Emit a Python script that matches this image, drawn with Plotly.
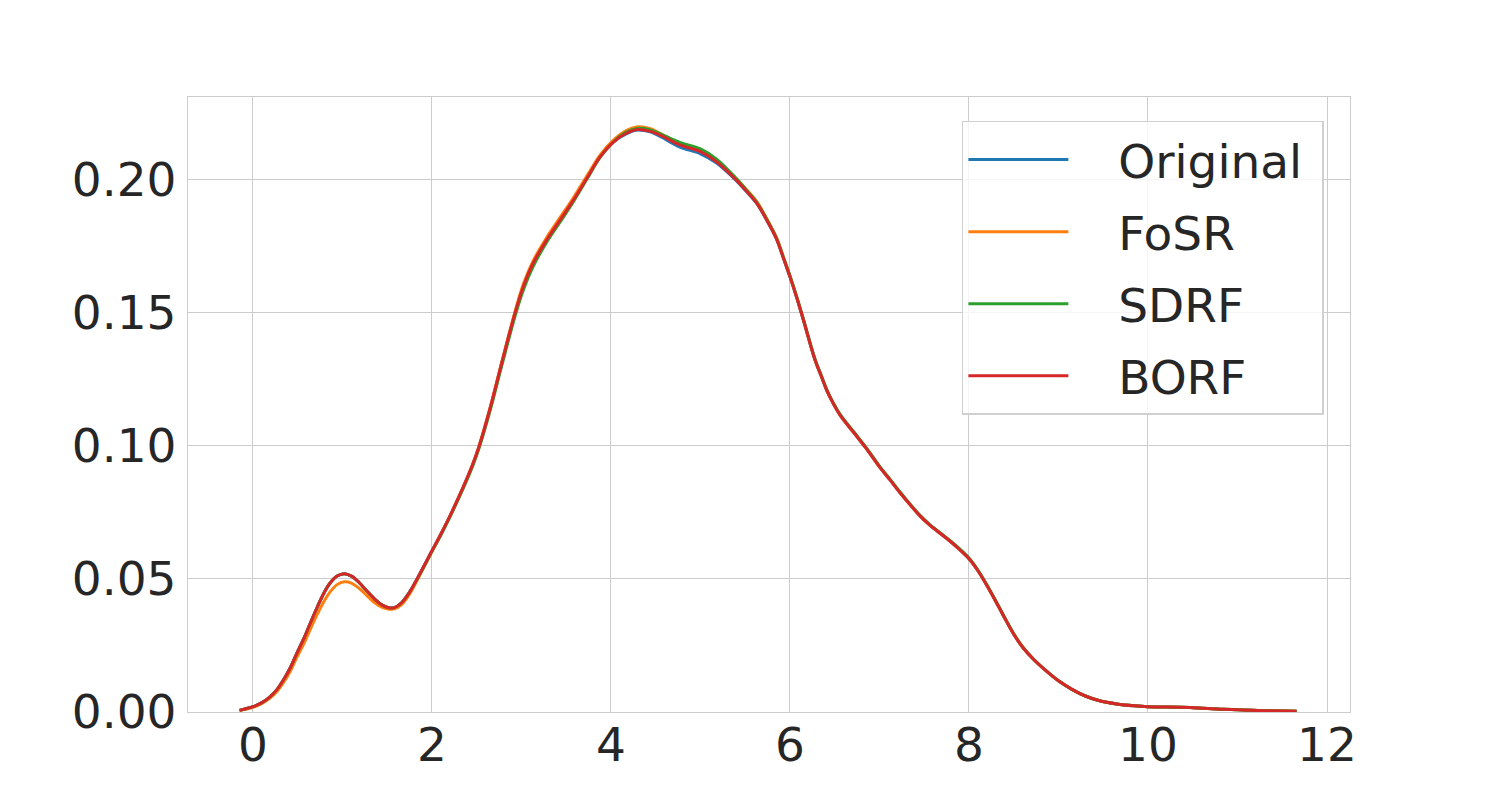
import plotly.graph_objects as go

x_vals = [-0.15, 0.0, 0.1, 0.19, 0.27, 0.34, 0.42, 0.49, 0.57, 0.64, 0.72, 0.79, 0.86, 0.94,
          1.02, 1.1, 1.18, 1.27, 1.36, 1.45, 1.52, 1.58, 1.66, 1.75, 1.85, 2.0, 2.1, 2.2,
          2.35, 2.45, 2.52, 2.65, 2.78, 2.93, 3.02, 3.13, 3.28, 3.43, 3.58, 3.73, 3.88,
          4.03, 4.17, 4.3, 4.43, 4.55, 4.77, 5.0, 5.18, 5.4, 5.5, 5.63, 5.75, 5.85, 5.93,
          6.0, 6.08, 6.15, 6.28, 6.35, 6.41, 6.48, 6.56, 6.75, 6.85, 7.0, 7.12, 7.23, 7.35,
          7.45, 7.55, 7.68, 7.8, 7.9, 8.0, 8.1, 8.2, 8.3, 8.4, 8.5, 8.6, 8.72, 8.85, 9.0,
          9.15, 9.3, 9.45, 9.65, 9.85, 10.0, 10.47, 10.84, 11.29, 11.66]

borf = [0.0006, 0.0020, 0.0035, 0.0057, 0.0085, 0.0120, 0.0168, 0.0220, 0.0277, 0.0333,
        0.0395, 0.0445, 0.0483, 0.0510, 0.0519, 0.0510, 0.0488, 0.0455, 0.0424, 0.0400,
        0.0391, 0.0392, 0.0410, 0.0450, 0.0510, 0.0605, 0.0668, 0.0735, 0.0845, 0.0925,
        0.0990, 0.1140, 0.1310, 0.1500, 0.1596, 0.1684, 0.1771, 0.1846, 0.1921, 0.2003,
        0.2084, 0.2140, 0.2172, 0.2186, 0.2180, 0.2165, 0.2128, 0.2103, 0.2065, 0.1996,
        0.1960, 0.1909, 0.1840, 0.1775, 0.1700, 0.1633, 0.1550, 0.1471, 0.1321, 0.1260,
        0.1208, 0.1160, 0.1114, 0.1033, 0.0990, 0.0920, 0.0870, 0.0823, 0.0775, 0.0737,
        0.0705, 0.0670, 0.0638, 0.0608, 0.0575, 0.0530, 0.0475, 0.0415, 0.0352, 0.0292,
        0.0243, 0.0198, 0.0158, 0.0117, 0.0085, 0.0060, 0.0043, 0.0030, 0.0023, 0.0020,
        0.0017, 0.0010, 0.0005, 0.0003]

original = [0.0006, 0.0020, 0.0035, 0.0057, 0.0085, 0.0120, 0.0168, 0.0220, 0.0277, 0.0333,
            0.0395, 0.0445, 0.0483, 0.0510, 0.0519, 0.0510, 0.0488, 0.0455, 0.0424, 0.0400,
            0.0391, 0.0392, 0.0410, 0.0450, 0.0510, 0.0605, 0.0668, 0.0735, 0.0845, 0.0925,
            0.0990, 0.1140, 0.1310, 0.1500, 0.1596, 0.1684, 0.1771, 0.1846, 0.1921, 0.2003,
            0.2084, 0.2140, 0.2170, 0.2184, 0.2178, 0.2160, 0.2120, 0.2095, 0.2060, 0.1994,
            0.1958, 0.1908, 0.1840, 0.1775, 0.1700, 0.1633, 0.1550, 0.1471, 0.1321, 0.1260,
            0.1208, 0.1160, 0.1114, 0.1033, 0.0990, 0.0920, 0.0870, 0.0823, 0.0775, 0.0737,
            0.0705, 0.0670, 0.0638, 0.0608, 0.0575, 0.0530, 0.0475, 0.0415, 0.0352, 0.0292,
            0.0243, 0.0198, 0.0158, 0.0117, 0.0085, 0.0060, 0.0043, 0.0030, 0.0023, 0.0020,
            0.0017, 0.0010, 0.0005, 0.0003]

fosr = [0.0006, 0.0018, 0.0032, 0.0052, 0.0078, 0.0110, 0.0155, 0.0205, 0.0258, 0.0310,
        0.0368, 0.0413, 0.0450, 0.0478, 0.0489, 0.0484, 0.0466, 0.0438, 0.0410, 0.0392,
        0.0386, 0.0387, 0.0403, 0.0443, 0.0505, 0.0603, 0.0668, 0.0735, 0.0845, 0.0926,
        0.0992, 0.1143, 0.1314, 0.1505, 0.1605, 0.1693, 0.1780, 0.1855, 0.1930, 0.2011,
        0.2091, 0.2147, 0.2182, 0.2196, 0.2190, 0.2172, 0.2132, 0.2105, 0.2068, 0.2002,
        0.1966, 0.1915, 0.1846, 0.1780, 0.1704, 0.1636, 0.1552, 0.1472, 0.1321, 0.1260,
        0.1208, 0.1160, 0.1114, 0.1033, 0.0990, 0.0920, 0.0870, 0.0823, 0.0775, 0.0737,
        0.0705, 0.0670, 0.0638, 0.0608, 0.0575, 0.0530, 0.0475, 0.0415, 0.0352, 0.0292,
        0.0243, 0.0198, 0.0158, 0.0117, 0.0085, 0.0060, 0.0043, 0.0030, 0.0023, 0.0020,
        0.0017, 0.0010, 0.0005, 0.0003]

sdrf = [0.0006, 0.0020, 0.0035, 0.0057, 0.0085, 0.0120, 0.0168, 0.0220, 0.0277, 0.0333,
        0.0395, 0.0445, 0.0483, 0.0510, 0.0519, 0.0510, 0.0488, 0.0455, 0.0424, 0.0400,
        0.0391, 0.0392, 0.0410, 0.0450, 0.0508, 0.0602, 0.0664, 0.0731, 0.0840, 0.0919,
        0.0984, 0.1132, 0.1300, 0.1488, 0.1583, 0.1672, 0.1762, 0.1838, 0.1915, 0.1999,
        0.2082, 0.2140, 0.2176, 0.2190, 0.2185, 0.2170, 0.2138, 0.2113, 0.2075, 0.2002,
        0.1964, 0.1912, 0.1843, 0.1778, 0.1703, 0.1636, 0.1553, 0.1474, 0.1324, 0.1263,
        0.1211, 0.1163, 0.1117, 0.1036, 0.0993, 0.0923, 0.0873, 0.0826, 0.0777, 0.0739,
        0.0707, 0.0672, 0.0640, 0.0611, 0.0578, 0.0533, 0.0478, 0.0417, 0.0354, 0.0294,
        0.0244, 0.0199, 0.0158, 0.0117, 0.0085, 0.0060, 0.0043, 0.0030, 0.0023, 0.0020,
        0.0017, 0.0010, 0.0005, 0.0003]

series_names = ["Original", "FoSR", "SDRF", "BORF"]
series_values = [original, fosr, sdrf, borf]
colors = ["#1f77b4", "#ff7f0e", "#2ca02c", "#d62728"]

x_ticks = [0, 2, 4, 6, 8, 10, 12]
y_ticks = [0.00, 0.05, 0.10, 0.15, 0.20]

NBSP = "\u00a0"

fig = go.Figure()
for name, vals, col in zip(series_names, series_values, colors):
    fig.add_trace(go.Scatter(
        x=x_vals, y=vals, name=NBSP * 3 + name + NBSP, mode="lines",
        line=dict(color=col, width=3, shape="spline", smoothing=1.0),
        legendgroup=name,
    ))

font_main = "DejaVu Sans"
fig.update_layout(
    width=1492, height=792,
    paper_bgcolor="white", plot_bgcolor="white",
    margin=dict(l=180, r=150, t=89, b=88),
    font=dict(family=font_main, size=47, color="#262626"),
    showlegend=True,
    legend=dict(
        x=0.666, y=0.961, xanchor="left", yanchor="top",
        bgcolor="rgba(255,255,255,0.8)", bordercolor="#d0d0d0", borderwidth=1.5,
        font=dict(family=font_main, size=47, color="#262626"),
        itemwidth=100, tracegroupgap=8, traceorder="grouped",
    ),
    xaxis=dict(
        range=[-0.726, 12.257], tickvals=x_ticks, ticktext=[str(t) for t in x_ticks],
        showgrid=True, gridcolor="#cccccc", gridwidth=1, zeroline=False,
        showline=True, linecolor="#cccccc", linewidth=1.25, mirror=True,
        ticks="", ticklabelstandoff=-9,
    ),
    yaxis=dict(
        range=[0, 0.2308], tickvals=y_ticks, ticktext=[f"{t:.2f}" for t in y_ticks],
        showgrid=True, gridcolor="#cccccc", gridwidth=1, zeroline=False,
        showline=True, linecolor="#cccccc", linewidth=1.25, mirror=True,
        ticks="", ticklabelstandoff=1,
    ),
)

fig.write_html("out.html")
